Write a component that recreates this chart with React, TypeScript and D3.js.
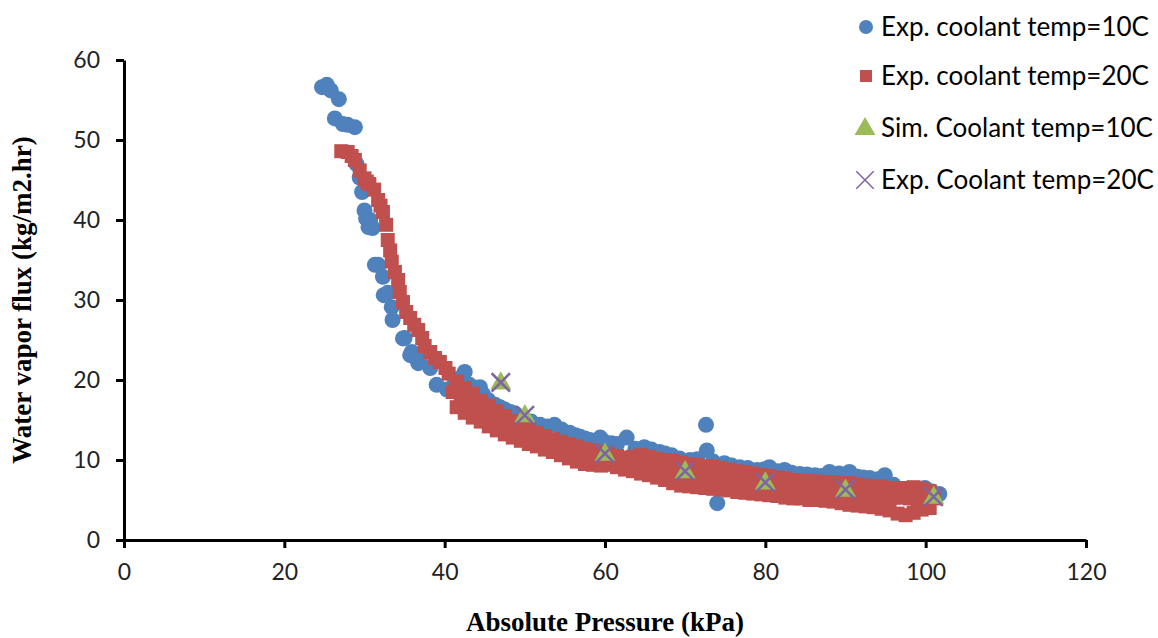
import React, { useEffect, useRef } from 'react';
import * as d3 from 'd3';

// Exp. coolant temp = 10C
const blueX = [24.7, 25.3, 25.8, 26.8, 26.3, 27.3, 27.9, 28.8, 29.0, 29.4, 29.7, 30.0, 30.2, 30.5, 30.7, 31.0, 31.3, 31.7, 32.3, 32.4, 32.9, 33.4, 33.5, 34.8, 35.0, 35.7, 35.9, 36.7, 36.9, 38.2, 39.0, 40.3, 41.3, 41.8, 42.5, 43.1, 43.8, 44.4, 44.8, 45.4, 45.9, 46.3, 46.9, 47.5, 48.2, 48.8, 49.4, 50.0, 50.8, 51.9, 52.8, 53.7, 54.6, 55.6, 56.3, 56.9, 57.5, 58.1, 59.4, 59.9, 60.8, 61.5, 62.7, 63.8, 64.9, 65.8, 66.8, 67.5, 68.3, 69.3, 70.6, 71.5, 72.6, 72.7, 73.5, 74.0, 74.9, 75.8, 76.8, 77.8, 79.0, 79.8, 80.5, 81.5, 82.4, 83.3, 84.3, 85.2, 86.2, 87.0, 88.0, 89.2, 90.5, 91.5, 92.2, 93.0, 94.0, 94.9, 96.0, 97.4, 98.6, 99.9, 100.7, 101.7];
const blueY = [56.6, 56.9, 56.2, 55.1, 52.7, 52.0, 51.9, 51.6, 47.0, 45.3, 43.5, 41.2, 40.2, 39.1, 40.0, 39.0, 34.4, 34.4, 32.9, 30.6, 30.9, 29.1, 27.5, 25.2, 25.25, 23.1, 23.5, 22.1, 22.5, 21.5, 19.4, 18.8, 19.8, 20.2, 21.0, 19.4, 19.0, 19.1, 18.2, 17.5, 17.0, 16.9, 16.6, 16.3, 16.0, 15.8, 15.4, 15.0, 14.8, 14.4, 14.2, 14.4, 13.8, 13.4, 13.1, 12.9, 12.7, 12.5, 12.8, 12.3, 12.1, 12.0, 12.8, 11.4, 11.6, 11.3, 11.0, 10.8, 10.6, 10.2, 10.0, 10.1, 14.4, 11.2, 9.8, 4.6, 9.6, 9.3, 9.1, 9.0, 8.75, 8.8, 9.1, 8.6, 8.75, 8.4, 8.25, 8.2, 8.1, 8.0, 8.5, 8.3, 8.5, 7.9, 7.8, 7.75, 7.6, 8.1, 6.9, 6.25, 6.3, 6.5, 6.1, 5.75];

// Exp. coolant temp = 20C: steep part, then upper, middle and lower edges of the band
const redX = [27.1, 27.9, 28.4, 28.8, 29.4, 30.0, 30.3, 30.6, 31.2, 31.7, 32.0, 32.3, 32.7, 32.9, 33.2, 33.4, 33.8, 34.2, 34.4, 34.8, 35.2, 35.7, 36.2, 36.7, 37.2, 37.5, 38.2, 38.8, 39.4, 40.1,
  40.5, 41.5, 42.5, 43.5, 44.5, 45.5, 46.5, 47.5, 48.5, 49.5, 50.5, 51.5, 52.5, 53.5, 54.5, 55.5, 56.5, 57.5, 58.5, 59.5, 60.5, 61.5, 62.5, 63.5, 64.5, 65.5, 66.5, 67.5, 68.5, 69.5, 70.5, 71.5, 72.5, 73.5, 74.5, 75.5, 76.5, 77.5, 78.5, 79.5, 80.5, 81.5, 82.5, 83.5, 84.5, 85.5, 86.5, 87.5, 88.5, 89.5, 90.5, 91.5, 92.5, 93.5, 94.5, 95.5, 96.5, 97.5, 98.5, 99.5, 100.5,
  41.0, 42.0, 43.0, 44.0, 45.0, 46.0, 47.0, 48.0, 49.0, 50.0, 51.0, 52.0, 53.0, 54.0, 55.0, 56.0, 57.0, 58.0, 59.0, 60.0, 61.0, 62.0, 63.0, 64.0, 65.0, 66.0, 67.0, 68.0, 69.0, 70.0, 71.0, 72.0, 73.0, 74.0, 75.0, 76.0, 77.0, 78.0, 79.0, 80.0, 81.0, 82.0, 83.0, 84.0, 85.0, 86.0, 87.0, 88.0, 89.0, 90.0, 91.0, 92.0, 93.0, 94.0, 95.0, 96.0, 97.0, 98.0, 99.0, 100.0, 101.0,
  41.5, 42.5, 43.5, 44.5, 45.5, 46.5, 47.5, 48.5, 49.5, 50.5, 51.5, 52.5, 53.5, 54.5, 55.5, 56.5, 57.5, 58.5, 59.5, 60.5, 61.5, 62.5, 63.5, 64.5, 65.5, 66.5, 67.5, 68.5, 69.5, 70.5, 71.5, 72.5, 73.5, 74.5, 75.5, 76.5, 77.5, 78.5, 79.5, 80.5, 81.5, 82.5, 83.5, 84.5, 85.5, 86.5, 87.5, 88.5, 89.5, 90.5, 91.5, 92.5, 93.5, 94.5, 95.5, 96.5, 97.5, 98.5, 99.5, 100.5];
const redY = [48.6, 48.5, 48.0, 47.5, 46.2, 45.2, 44.8, 44.5, 43.8, 42.5, 41.8, 41.0, 39.4, 37.5, 36.2, 34.8, 33.5, 32.5, 31.0, 29.75, 28.5, 27.75, 26.9, 26.25, 25.25, 24.25, 23.5, 22.75, 22.25, 21.5,
  20.8, 19.8, 19.0, 18.3, 17.4, 16.8, 16.1, 15.5, 14.9, 14.4, 13.9, 13.4, 13.0, 12.6, 12.3, 12.0, 11.7, 11.4, 11.2, 11.0, 10.7, 10.5, 10.3, 10.4, 10.6, 10.4, 10.1, 10.0, 9.9, 9.7, 9.5, 9.4, 9.2, 9.2, 9.0, 8.8, 8.6, 8.5, 8.3, 8.1, 8.0, 7.8, 7.7, 7.5, 7.4, 7.4, 7.3, 7.2, 7.2, 7.1, 7.1, 6.9, 6.8, 6.7, 6.7, 6.5, 6.5, 6.5, 6.6, 6.4, 6.1,
  18.5, 17.6, 17.0, 16.3, 15.8, 15.2, 14.6, 14.1, 13.7, 13.3, 12.9, 12.6, 12.2, 11.8, 11.5, 11.2, 10.9, 10.6, 10.4, 10.2, 10.0, 9.7, 9.6, 9.4, 9.3, 9.1, 8.9, 8.7, 8.5, 8.3, 8.2, 8.0, 7.9, 7.8, 7.6, 7.5, 7.3, 7.2, 7.1, 7.0, 6.8, 6.7, 6.6, 6.5, 6.4, 6.3, 6.2, 6.2, 6.0, 6.0, 5.9, 5.8, 5.6, 5.5, 5.5, 5.3, 5.3, 5.2, 5.1, 5.0, 5.2,
  16.6, 15.9, 15.3, 14.8, 14.2, 13.7, 13.2, 12.8, 12.4, 12.0, 11.7, 11.3, 11.0, 10.6, 10.2, 9.8, 9.5, 9.4, 9.3, 9.4, 9.1, 8.8, 8.6, 8.3, 8.1, 7.8, 7.5, 7.1, 6.8, 6.7, 6.6, 6.5, 6.4, 6.3, 6.2, 6.0, 5.9, 5.8, 5.7, 5.6, 5.5, 5.3, 5.2, 5.2, 5.0, 5.0, 4.9, 4.8, 4.6, 4.4, 4.3, 4.2, 4.1, 3.9, 3.7, 3.3, 3.1, 3.4, 3.8, 4.0];

// Sim. Coolant temp = 10C
const simX = [47, 50, 60, 70, 80, 90, 101];
const simY = [19.7, 15.6, 10.8, 8.6, 7.2, 6.3, 5.4];

// Exp. Coolant temp = 20C (cross markers)
const crossX = [47, 50, 60, 70, 80, 90, 101];
const crossY = [19.7, 15.6, 10.8, 8.6, 7.2, 6.3, 5.4];

const xTicks = [0, 20, 40, 60, 80, 100, 120];
const yTicks = [0, 10, 20, 30, 40, 50, 60];

const legendLabels = [
  'Exp. coolant temp=10C',
  'Exp. coolant temp=20C',
  'Sim. Coolant temp=10C',
  'Exp. Coolant temp=20C',
];

const BLUE = '#4F81BD';
const RED = '#C0504D';
const GREEN = '#9BBB59';
const PURPLE = '#8064A2';

const App = () => {
  const ref = useRef<SVGSVGElement>(null);

  useEffect(() => {
    const svg = d3.select(ref.current);
    svg.selectAll('*').remove();

    const x = d3.scaleLinear().domain([0, 120]).range([124, 1086]);
    const y = d3.scaleLinear().domain([0, 60]).range([540, 60]);
    const tickFont = 'Lato, "Open Sans", sans-serif';
    const titleFont = '"Liberation Serif", "Times New Roman", serif';

    // axes
    const xAxis = svg
      .append('g')
      .attr('transform', `translate(0,${y(0)})`)
      .call(d3.axisBottom(x).tickValues(xTicks).tickSize(8).tickSizeOuter(0));
    const yAxis = svg
      .append('g')
      .attr('transform', `translate(${x(0)},0)`)
      .call(d3.axisLeft(y).tickValues(yTicks).tickSize(8).tickSizeOuter(0));

    [xAxis, yAxis].forEach((g) => {
      g.select('.domain').attr('stroke', '#000').attr('stroke-width', 3);
      g.selectAll('.tick line').attr('stroke', '#000').attr('stroke-width', 3);
      g.selectAll('.tick text')
        .attr('fill', '#222')
        .style('font-family', tickFont)
        .style('font-size', '23px');
    });
    xAxis.selectAll('.tick text').attr('dy', '1.25em');
    yAxis.selectAll('.tick text').attr('x', -24);

    // axis titles
    svg
      .append('text')
      .attr('x', 605)
      .attr('y', 631)
      .attr('text-anchor', 'middle')
      .style('font-family', titleFont)
      .style('font-weight', 'bold')
      .style('font-size', '27px')
      .text('Absolute Pressure (kPa)');

    svg
      .append('text')
      .attr('transform', `translate(31,300) rotate(-90)`)
      .attr('text-anchor', 'middle')
      .style('font-family', titleFont)
      .style('font-weight', 'bold')
      .style('font-size', '27px')
      .text('Water vapor flux  (kg/m2.hr)');

    // series
    const plot = svg.append('g');

    plot
      .selectAll('circle.blue')
      .data(d3.zip(blueX, blueY))
      .enter()
      .append('circle')
      .attr('class', 'blue')
      .attr('cx', (d) => x(d[0]))
      .attr('cy', (d) => y(d[1]))
      .attr('r', 8)
      .attr('fill', BLUE);

    plot
      .selectAll('rect.red')
      .data(d3.zip(redX, redY))
      .enter()
      .append('rect')
      .attr('class', 'red')
      .attr('x', (d) => x(d[0]) - 7)
      .attr('y', (d) => y(d[1]) - 7)
      .attr('width', 14)
      .attr('height', 14)
      .attr('fill', RED);

    const tri = d3.symbol().type(d3.symbolTriangle).size(190);
    plot
      .selectAll('path.sim')
      .data(d3.zip(simX, simY))
      .enter()
      .append('path')
      .attr('class', 'sim')
      .attr('d', tri)
      .attr('transform', (d) => `translate(${x(d[0])},${y(d[1]) + 1})`)
      .attr('fill', GREEN);

    const cross = d3.symbol().type(d3.symbolX).size(220);
    plot
      .selectAll('path.cross')
      .data(d3.zip(crossX, crossY))
      .enter()
      .append('path')
      .attr('class', 'cross')
      .attr('d', cross)
      .attr('transform', (d) => `translate(${x(d[0])},${y(d[1])})`)
      .attr('fill', 'none')
      .attr('stroke', PURPLE)
      .attr('stroke-width', 2.5);

    // legend
    const rowY = [27, 76, 128, 180];
    const legend = svg.append('g');
    legendLabels.forEach((label, i) => {
      const ly = rowY[i];
      if (i === 0) legend.append('circle').attr('cx', 866).attr('cy', ly).attr('r', 7).attr('fill', BLUE);
      if (i === 1) legend.append('rect').attr('x', 860).attr('y', ly - 6).attr('width', 12).attr('height', 12).attr('fill', RED);
      if (i === 2) legend.append('path').attr('d', d3.symbol().type(d3.symbolTriangle).size(190)).attr('transform', `translate(865,${ly + 1})`).attr('fill', GREEN);
      if (i === 3) legend.append('path').attr('d', d3.symbol().type(d3.symbolX).size(200)).attr('transform', `translate(865,${ly})`).attr('fill', 'none').attr('stroke', PURPLE).attr('stroke-width', 1.5);
      legend
        .append('text')
        .attr('x', 881)
        .attr('y', ly)
        .attr('dy', '0.35em')
        .style('font-family', tickFont)
        .style('font-size', '26px')
        .attr('fill', '#000')
        .text(label);
    });
  }, []);

  return (
    <svg
      ref={ref}
      width={1158}
      height={638}
      style={{ position: 'absolute', left: 0, top: 0, background: '#fff' }}
    />
  );
};

export default App;
